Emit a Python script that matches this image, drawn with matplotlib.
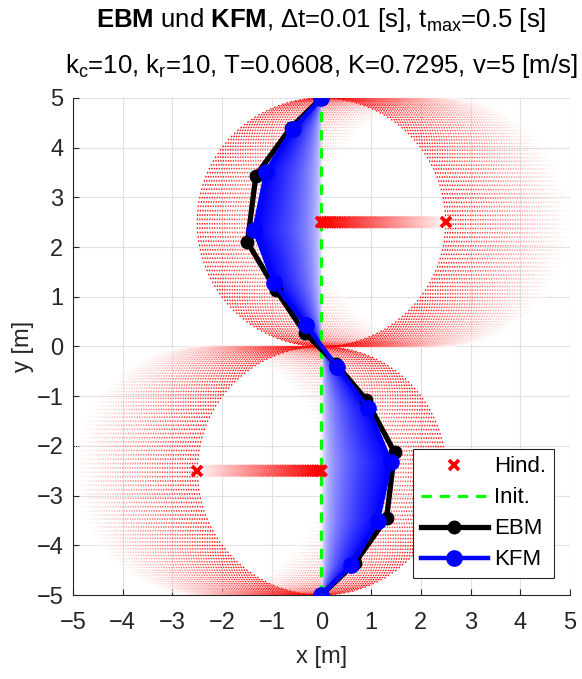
import numpy as np
import matplotlib
matplotlib.use("Agg")
import matplotlib.pyplot as plt
from matplotlib.patches import Circle, Polygon

plt.rcParams["font.family"] = ["Liberation Sans", "DejaVu Sans"]
plt.rcParams["mathtext.fontset"] = "custom"
plt.rcParams["mathtext.rm"] = "Liberation Sans"
plt.rcParams["mathtext.bf"] = "Liberation Sans:bold"
plt.rcParams["mathtext.it"] = "Liberation Sans"

# simulation settings (same as in the title)
DT = 0.01
T_MAX = 0.5
V_HIND = 5.0
R_HIND = 2.5

# hindrances: start position and direction of travel
HIND_X0 = [0.0, 0.0]
HIND_Y = [2.5, -2.5]
HIND_DIR = [1.0, -1.0]

# initial straight path
INIT_X = [0.0, 0.0]
INIT_Y = [-5.0, 5.0]

# final node positions, elastic band model
EBM_X = [0.0, -0.62, -1.32, -1.49, -0.92, -0.34, 0.30, 0.90, 1.47, 1.31, 0.67, 0.0]
EBM_Y = [5.0, 4.40, 3.44, 2.10, 1.14, 0.28, -0.36, -1.07, -2.13, -3.45, -4.36, -5.0]

# final node positions, KFM
KFM_X = [0.0, -0.58, -1.11, -1.35, -0.95, -0.31, 0.32, 0.93, 1.39, 1.13, 0.60, 0.0]
KFM_Y = [5.0, 4.37, 3.52, 2.35, 1.27, 0.43, -0.42, -1.23, -2.33, -3.52, -4.40, -5.0]

TICKS = np.arange(-5, 6, 1)
FS = 17
DARK = (0.15, 0.15, 0.15)

fig = plt.figure(figsize=(5.82, 6.79), dpi=100)
ax = fig.add_axes([0.1254, 0.1237, 0.854, 0.732])

times = np.arange(0, T_MAX + DT / 2, DT)

# influence circles of the moving hindrances, red -> white over time
for x0, y0, d in zip(HIND_X0, HIND_Y, HIND_DIR):
    for t in times[::-1]:
        f = t / T_MAX
        c = Circle((x0 + d * V_HIND * t, y0), R_HIND, fill=False,
                   edgecolor=(1, f, f), lw=0.9, linestyle=(0, (1.3, 2.2)),
                   zorder=1)
        ax.add_patch(c)

# history of the KFM band, white at t=0 to blue at t_max
kx = np.array(KFM_X)
ky = np.array(KFM_Y)
order = np.argsort(ky)
gx = np.linspace(-1.6, 1.6, 320)
gy = np.linspace(-5, 5, 1000)
xc = np.interp(gy, ky[order], kx[order])
xc[np.abs(xc) < 1e-3] = 1e-3
frac = np.clip(gx[None, :] / xc[:, None], 0, 1) ** 0.5
img = np.ones((len(gy), len(gx), 4))
img[..., 0] = 1 - frac
img[..., 1] = 1 - frac
fan = Polygon(np.column_stack([kx, ky]), closed=True, transform=ax.transData)
im = ax.imshow(img, extent=(gx[0], gx[-1], gy[0], gy[-1]), origin="lower",
               interpolation="bilinear", zorder=2)
im.set_clip_path(fan)

ax.plot(INIT_X, INIT_Y, color=(0, 1, 0), lw=2.3, dashes=(3.2, 2.5),
        zorder=3, label="Init.")

# hindrance tracks
for x0, y0, d in zip(HIND_X0, HIND_Y, HIND_DIR):
    hx = x0 + d * V_HIND * times
    cols = [(1, f, f) for f in times / T_MAX]
    ax.scatter(hx[::-1], np.full(len(hx), y0), marker="x", s=55,
               linewidths=2.6, c=cols[::-1], zorder=4)
hind, = ax.plot([x0 + d * V_HIND * T_MAX for x0, d in zip(HIND_X0, HIND_DIR)],
                HIND_Y, "x", color="red", ms=7.5, mew=2.7, zorder=4,
                label="Hind.")
ax.plot(HIND_X0, HIND_Y, "x", color="red", ms=7.5, mew=2.7, zorder=4)

ax.plot(EBM_X, EBM_Y, "-o", color="black", lw=3.8, ms=9, zorder=5,
        label="EBM")
ax.plot(KFM_X, KFM_Y, "-o", color="blue", lw=3.2, ms=11, zorder=6,
        label="KFM")

ax.set_xlim(-5, 5)
ax.set_ylim(-5, 5)
ax.set_aspect("equal")
ax.set_xticks(TICKS)
ax.set_yticks(TICKS)
ax.grid(True, color=(0.88, 0.88, 0.88), lw=0.8, zorder=0)
ax.set_axisbelow(True)
for s in ["top", "right"]:
    ax.spines[s].set_visible(False)
for s in ["left", "bottom"]:
    ax.spines[s].set_color(DARK)
    ax.spines[s].set_linewidth(0.8)
ax.tick_params(direction="in", length=4, width=0.8, colors=DARK,
               labelsize=FS)
ax.tick_params(axis="x", pad=12)
ax.tick_params(axis="y", pad=7)
ax.set_xlabel("x [m]", fontsize=FS, color=DARK, labelpad=9)
ax.set_ylabel("y [m]", fontsize=FS, color=DARK, labelpad=2)

handles, labels = ax.get_legend_handles_labels()
want = ["Hind.", "Init.", "EBM", "KFM"]
hl = [handles[labels.index(w)] for w in want]
leg = ax.legend(hl, want, loc="lower right", bbox_to_anchor=(0.968, 0.034),
                borderaxespad=0, fontsize=16, handlelength=3.0,
                labelspacing=0.45, handletextpad=0.3, borderpad=0.35,
                fancybox=False, framealpha=1, edgecolor=DARK)
leg.get_frame().set_linewidth(0.8)

fig.text(0.5525, 0.960,
         r"$\mathbf{EBM}$ und $\mathbf{KFM}$, $\Delta$t=0.01 [s], "
         r"t$_{\mathrm{max}}$=0.5 [s]",
         ha="center", va="baseline", fontsize=18.5)
fig.text(0.5525, 0.893,
         r"k$_{\mathrm{c}}$=10, k$_{\mathrm{r}}$=10, T=0.0608, "
         r"K=0.7295, v=5 [m/s]",
         ha="center", va="baseline", fontsize=18.5)

fig.savefig("out.png", dpi=100)
